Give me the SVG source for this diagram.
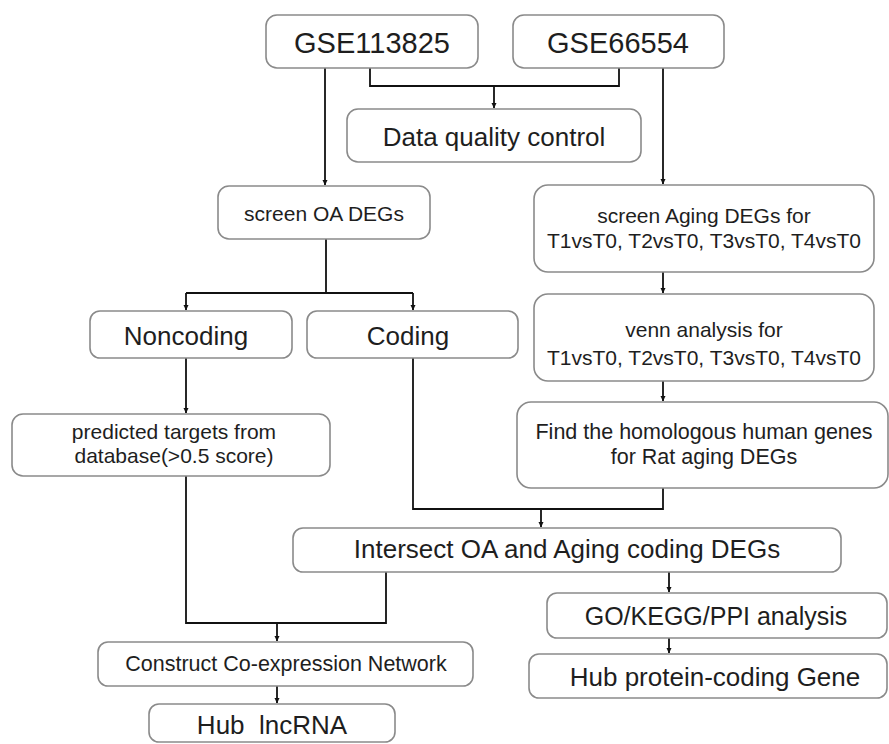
<svg xmlns="http://www.w3.org/2000/svg" width="889" height="744" viewBox="0 0 889 744">
<defs>
<style>
.box{fill:#fff;stroke:#8a8a8a;stroke-width:1.6}
.t{font-family:"Liberation Sans",Arial,sans-serif;fill:#1e1e1e;text-anchor:middle}
.c{fill:none;stroke:#111;stroke-width:1.8}
</style>
<marker id="ah" markerWidth="6" markerHeight="6" refX="5" refY="3" orient="auto" markerUnits="userSpaceOnUse">
<path d="M0,0.5 L5.5,3 L0,5.5 Z" fill="#111"/>
</marker>
</defs>
<rect width="889" height="744" fill="#fff"/>
<g id="connectors">
<path class="c" d="M370,68 V86 H619 V68"/>
<path class="c" d="M494,86 V108" marker-end="url(#ah)"/>
<path class="c" d="M325,68 V185" marker-end="url(#ah)"/>
<path class="c" d="M663,68 V184" marker-end="url(#ah)"/>
<path class="c" d="M326,239 V293 M186,293 H413"/>
<path class="c" d="M186,293 V310" marker-end="url(#ah)"/>
<path class="c" d="M413,293 V310" marker-end="url(#ah)"/>
<path class="c" d="M186,358 V413" marker-end="url(#ah)"/>
<path class="c" d="M663,272 V293" marker-end="url(#ah)"/>
<path class="c" d="M663,381 V401" marker-end="url(#ah)"/>
<path class="c" d="M413,358 V509 H663 V488"/>
<path class="c" d="M541,509 V527" marker-end="url(#ah)"/>
<path class="c" d="M186,476 V623 H386 V572"/>
<path class="c" d="M277,623 V641" marker-end="url(#ah)"/>
<path class="c" d="M277,686 V703" marker-end="url(#ah)"/>
<path class="c" d="M669,572 V592" marker-end="url(#ah)"/>
<path class="c" d="M669,638 V653" marker-end="url(#ah)"/>
</g>
<g id="gse113825"><rect class="box" x="266" y="15" width="212" height="53" rx="11"/><text class="t" x="372" y="53" font-size="29">GSE113825</text></g>
<g id="gse66554"><rect class="box" x="513" y="15" width="211" height="53" rx="11"/><text class="t" x="618" y="53" font-size="29">GSE66554</text></g>
<g id="dqc"><rect class="box" x="347" y="109" width="294" height="53" rx="11"/><text class="t" x="494" y="145.5" font-size="26">Data quality control</text></g>
<g id="screenOA"><rect class="box" x="218" y="186" width="212" height="53" rx="11"/><text class="t" x="324" y="221" font-size="21">screen OA DEGs</text></g>
<g id="screenAging"><rect class="box" x="534" y="185" width="340" height="87" rx="14"/><text class="t" x="704" y="223" font-size="21">screen Aging DEGs for</text><text class="t" x="704" y="248" font-size="21">T1vsT0, T2vsT0, T3vsT0, T4vsT0</text></g>
<g id="noncoding"><rect class="box" x="90" y="311" width="202" height="47" rx="10"/><text class="t" x="186" y="345" font-size="26">Noncoding</text></g>
<g id="coding"><rect class="box" x="307" y="311" width="211" height="47" rx="10"/><text class="t" x="408" y="345" font-size="26">Coding</text></g>
<g id="venn"><rect class="box" x="534" y="294" width="340" height="87" rx="14"/><text class="t" x="704" y="337" font-size="21">venn analysis for</text><text class="t" x="704" y="365" font-size="21">T1vsT0, T2vsT0, T3vsT0, T4vsT0</text></g>
<g id="predicted"><rect class="box" x="12" y="414" width="318" height="62" rx="11"/><text class="t" x="174" y="439" font-size="21">predicted targets from</text><text class="t" x="174" y="463" font-size="21">database(&gt;0.5 score)</text></g>
<g id="find"><rect class="box" x="517" y="402" width="371" height="86" rx="14"/><text class="t" x="704" y="439" font-size="21.5">Find the homologous human genes</text><text class="t" x="704" y="464" font-size="21.5">for Rat aging DEGs</text></g>
<g id="intersect"><rect class="box" x="293" y="528" width="548" height="44" rx="10"/><text class="t" x="567" y="558" font-size="26">Intersect OA and Aging coding DEGs</text></g>
<g id="go"><rect class="box" x="547" y="593" width="340" height="45" rx="10"/><text class="t" x="716" y="625" font-size="25">GO/KEGG/PPI analysis</text></g>
<g id="construct"><rect class="box" x="98" y="642" width="375" height="44" rx="10"/><text class="t" x="286" y="671" font-size="21.5">Construct Co-expression Network</text></g>
<g id="hubProtein"><rect class="box" x="529" y="654" width="358" height="44" rx="10"/><text class="t" x="715" y="686" font-size="26">Hub protein-coding Gene</text></g>
<g id="hubLnc"><rect class="box" x="149" y="704" width="246" height="38" rx="10"/><text class="t" x="272" y="734" font-size="26" xml:space="preserve">Hub  lncRNA</text></g>
</svg>
